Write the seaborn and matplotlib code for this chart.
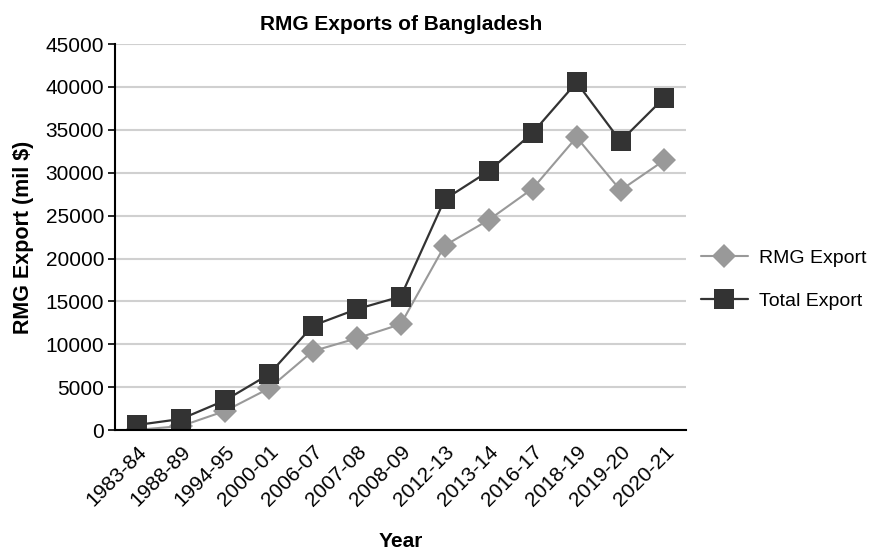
import pandas as pd
import matplotlib.pyplot as plt
import seaborn as sns

# ----------------------------------------------------------
# Data (mil $)
# ----------------------------------------------------------

years = ["1983-84", "1988-89", "1994-95", "2000-01", "2006-07", "2007-08",
         "2008-09", "2012-13", "2013-14", "2016-17", "2018-19", "2019-20",
         "2020-21"]
rmg_export = [32, 471, 2228, 4860, 9211, 10700, 12350, 21515, 24490,
              28150, 34130, 27950, 31460]
total_export = [600, 1300, 3470, 6500, 12180, 14100, 15570, 26900, 30180,
                34650, 40530, 33670, 38760]

df = pd.DataFrame({"Year": years, "RMG Export": rmg_export,
                   "Total Export": total_export})

# ----------------------------------------------------------
# Plot
# ----------------------------------------------------------

sns.set_style("white")
plt.rcParams["font.family"] = ["Liberation Sans", "DejaVu Sans"]
plt.rcParams["text.color"] = "black"
plt.rcParams["axes.labelcolor"] = "black"
plt.rcParams["xtick.color"] = "black"
plt.rcParams["ytick.color"] = "black"

fig = plt.figure(figsize=(8.8, 5.5), dpi=100)
ax = fig.add_axes([0.131, 0.218, 0.649, 0.702])

sns.lineplot(data=df, x="Year", y="RMG Export", ax=ax, color="#999999",
             linewidth=1.5, marker="D", markersize=12, markeredgewidth=0,
             label="RMG Export", sort=False)
sns.lineplot(data=df, x="Year", y="Total Export", ax=ax, color="#333333",
             linewidth=1.6, marker="s", markersize=15, markeredgewidth=0,
             label="Total Export", sort=False)

ax.set_xlim(-0.5, len(years) - 0.5)
ax.set_ylim(0, 45000)
ax.set_yticks(range(0, 45001, 5000))
ax.yaxis.grid(True, color="#d0d0d0", linewidth=1.5)
ax.set_axisbelow(True)

for side in ["top", "right"]:
    ax.spines[side].set_visible(False)
for side in ["left", "bottom"]:
    ax.spines[side].set_color("black")
    ax.spines[side].set_linewidth(1.5)

ax.tick_params(axis="y", left=True, length=5, width=1.2, labelsize=15,
               pad=3)
ax.tick_params(axis="x", bottom=False, labelsize=15, pad=5)
plt.setp(ax.get_xticklabels(), rotation=45, ha="right",
         rotation_mode="anchor")

ax.set_title("RMG Exports of Bangladesh", fontsize=15, fontweight="bold",
             pad=10)
ax.set_xlabel("Year", fontsize=15, fontweight="bold", labelpad=16)
ax.set_ylabel("RMG Export (mil $)", fontsize=15.5, fontweight="bold",
              labelpad=8)

ax.legend(loc="center left", bbox_to_anchor=(0.995, 0.39), frameon=False,
          fontsize=14, labelspacing=1.3, handlelength=2.4,
          handletextpad=0.6)

plt.savefig("out.png", dpi=100)
plt.close()
